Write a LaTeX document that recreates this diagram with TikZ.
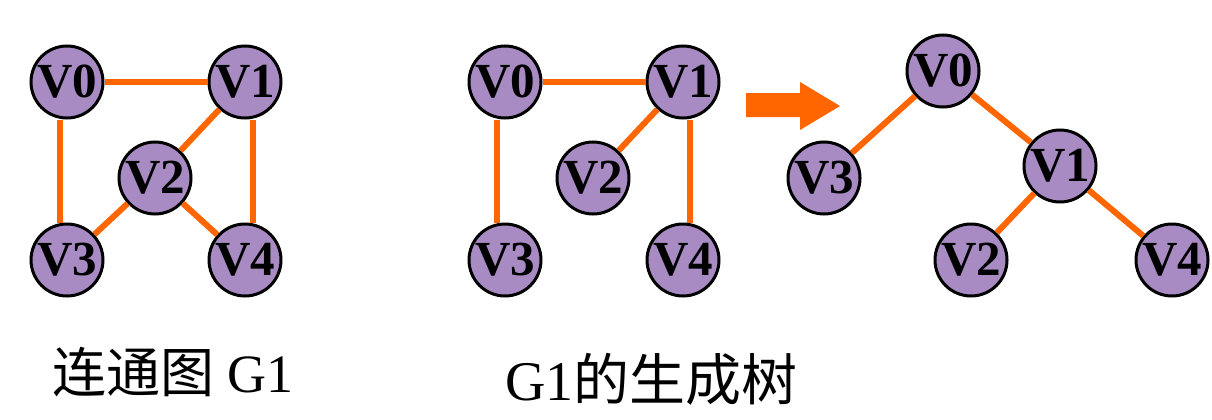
\documentclass[tikz,border=0pt]{standalone}
\usepackage{fontspec}
\setmainfont{Liberation Serif}
\newfontfamily\cjk{Noto Sans CJK SC}
\usetikzlibrary{positioning}
\definecolor{vfill}{RGB}{167,139,194}
\definecolor{lorange}{RGB}{255,102,0}
\tikzset{vtx/.style={circle,draw=black,line width=3pt,fill=vfill,minimum size=72pt,inner sep=0pt,font=\fontsize{49pt}{49pt}\selectfont\bfseries}}
\tikzset{link/.style={draw=lorange,line width=6pt}}
\tikzset{caption/.style={inner sep=0pt,anchor=base west}}

\begin{document}
\begin{tikzpicture}[x=1pt,y=-1pt]
        \useasboundingbox (0,0) rectangle (1212,420);

        % connected graph
        \node[vtx] (a0) at (67,82) {V0};
        \node[vtx] (a1) at (245,82) {V1};
        \node[vtx] (a2) at (155,178) {V2};
        \node[vtx] (a3) at (67,260) {V3};
        \node[vtx] (a4) at (245,260) {V4};

        \draw[link] (a0) -- (a1);
        \draw[link] ([xshift=-7pt]a0.south) -- ([xshift=-7pt]a3.north);
        \draw[link] ([xshift=8pt]a1.south) -- ([xshift=8pt]a4.north);
        \draw[link] (a1) -- (a2);
        \draw[link] (a2) -- (a3);
        \draw[link] (a2) -- (a4);

        % spanning tree
        \node[vtx] (b0) at (505,82) {V0};
        \node[vtx] (b1) at (683,82) {V1};
        \node[vtx] (b2) at (593,178) {V2};
        \node[vtx] (b3) at (505,260) {V3};
        \node[vtx] (b4) at (683,260) {V4};

        \draw[link] (b0) -- (b1);
        \draw[link] ([xshift=-8pt]b0.south) -- ([xshift=-8pt]b3.north);
        \draw[link] ([xshift=7pt]b1.south) -- ([xshift=7pt]b4.north);
        \draw[link] (b1) -- (b2);

        % big arrow
        \fill[lorange] (746,93) -- (800,93) -- (800,82) -- (840,106)
            -- (800,130) -- (800,117) -- (746,117) -- cycle;

        % same tree, drawn as a tree
        \node[vtx] (c0) at (943,71) {V0};
        \node[vtx] (c3) at (824,178) {V3};
        \node[vtx] (c1) at (1060,166) {V1};
        \node[vtx] (c2) at (971,260) {V2};
        \node[vtx] (c4) at (1172,260) {V4};

        \draw[link] (c0) -- (c3);
        \draw[link] (c0) -- (c1);
        \draw[link] (c1) -- (c2);
        \draw[link] (c1) -- (c4);

        % captions
        \node[caption,font=\fontsize{54pt}{54pt}\selectfont] (capa) at (52,392)
            {{\cjk 连通图} G1};
        \node[caption,font=\fontsize{56pt}{56pt}\selectfont] (capb) at (505,400)
            {G1{\cjk 的生成树}};
\end{tikzpicture}
\end{document}
